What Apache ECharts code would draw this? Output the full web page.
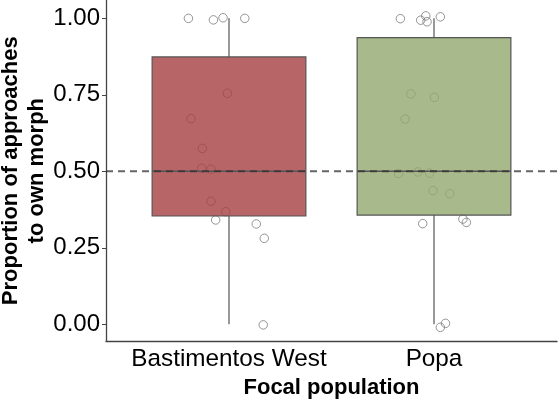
<!DOCTYPE html>
<html lang="en">
<head>
<meta charset="UTF-8">
<title>Focal population boxplot</title>
<script src="https://cdn.jsdelivr.net/npm/echarts@6/dist/echarts.min.js"></script>
<style>
    html, body { margin: 0; padding: 0; background: #fff; }
    #container { width: 558px; height: 400px; }
</style>
</head>
<body>
<div id="container"></div>
<script type="text/javascript">
    // categories and their x position
    var categories = ['Bastimentos West', 'Popa'];
    var catPos = [1, 2];
    var boxColors = ['rgba(165,62,65,0.8)', 'rgba(146,168,110,0.8)'];

    // [min, Q1, median, Q3, max]
    var boxStats = [
        [0, 0.354, 0.5, 0.874, 1],
        [0, 0.357, 0.5, 0.937, 1]
    ];

    // jittered points [x, y]
    var bastimentosPts = [
        [0.802, 1.000], [0.924, 0.995], [0.971, 1.002], [1.077, 1.000],
        [0.992, 0.755], [0.815, 0.672], [0.870, 0.575], [0.867, 0.510],
        [0.912, 0.507], [0.912, 0.402], [0.984, 0.368], [0.935, 0.341],
        [1.133, 0.328], [1.172, 0.281], [1.167, -0.002]
    ];
    var popaPts = [
        [1.836, 0.999], [1.935, 0.994], [1.960, 1.008], [1.966, 0.989],
        [2.031, 1.005], [1.887, 0.753], [2.002, 0.742], [1.859, 0.671],
        [1.827, 0.493], [1.921, 0.498], [1.979, 0.494], [1.995, 0.437],
        [2.077, 0.427], [1.945, 0.329], [2.141, 0.344], [2.158, 0.333],
        [2.031, -0.010], [2.056, 0.003]
    ];

    var yTicks = [0, 0.25, 0.5, 0.75, 1];
    var refValue = 0.5;
    var xRange = [0.4, 2.6];
    var yRange = [-0.056, 1.06];
    var boxWidth = 0.75;

    var font = 'Liberation Sans, Arial, Helvetica, sans-serif';

    var boxData = boxStats.map(function (s, i) {
        return [catPos[i]].concat(s).concat([i]);
    });

    var dom = document.getElementById('container');
    var myChart = echarts.init(dom, null, { renderer: 'canvas' });

    var option = {
        animation: false,
        grid: {
            left: 106,
            right: 1,
            top: 0,
            bottom: 58.6,
            containLabel: false,
            outerBoundsMode: 'none'
        },
        xAxis: {
            type: 'value',
            min: xRange[0],
            max: xRange[1],
            name: 'Focal population',
            nameLocation: 'middle',
            nameGap: 35.5,
            nameMoveOverlap: false,
            nameTextStyle: { fontFamily: font, fontSize: 22, fontWeight: 'bold', color: '#000' },
            axisLine: { show: true, onZero: false, lineStyle: { color: '#444', width: 1.3 } },
            axisTick: { show: false, customValues: catPos },
            axisLabel: {
                customValues: catPos,
                formatter: function (v) { return categories[Math.round(v) - 1]; },
                fontFamily: font,
                fontSize: 24.3,
                color: '#000',
                margin: 6
            },
            splitLine: { show: false }
        },
        yAxis: {
            type: 'value',
            min: yRange[0],
            max: yRange[1],
            name: 'Proportion of approaches\nto own morph',
            nameLocation: 'middle',
            nameRotate: 90,
            nameGap: 56,
            nameMoveOverlap: false,
            nameTextStyle: { fontFamily: font, fontSize: 22, fontWeight: 'bold', color: '#000', lineHeight: 26, align: 'center' },
            axisLine: { show: true, onZero: false, lineStyle: { color: '#444', width: 1.3 } },
            axisTick: { show: true, length: 4, customValues: yTicks, lineStyle: { color: '#444' } },
            axisLabel: {
                customValues: yTicks,
                formatter: function (v) { return v.toFixed(2); },
                fontFamily: font,
                fontSize: 24,
                color: '#000',
                margin: 6
            },
            splitLine: { show: false }
        },
        series: [
            {
                name: 'Bastimentos West points',
                type: 'scatter',
                z: 1,
                symbol: 'circle',
                symbolSize: 8.5,
                itemStyle: { color: 'rgba(255,255,255,0)', borderColor: '#7a7a7a', borderWidth: 1 },
                data: bastimentosPts
            },
            {
                name: 'Popa points',
                type: 'scatter',
                z: 1,
                symbol: 'circle',
                symbolSize: 8.5,
                itemStyle: { color: 'rgba(255,255,255,0)', borderColor: '#7a7a7a', borderWidth: 1 },
                data: popaPts
            },
            {
                name: 'boxes',
                type: 'custom',
                z: 2,
                renderItem: function (params, api) {
                    var x = api.value(0);
                    var pMin = api.coord([x, api.value(1)]);
                    var pQ1 = api.coord([x, api.value(2)]);
                    var pMed = api.coord([x, api.value(3)]);
                    var pQ3 = api.coord([x, api.value(4)]);
                    var pMax = api.coord([x, api.value(5)]);
                    var half = api.size([boxWidth, 0])[0] / 2;
                    var idx = api.value(6);
                    var line = { stroke: '#555', lineWidth: 1.2 };
                    return {
                        type: 'group',
                        children: [
                            { type: 'line', shape: { x1: pMax[0], y1: pMax[1], x2: pQ3[0], y2: pQ3[1] }, style: line },
                            { type: 'line', shape: { x1: pQ1[0], y1: pQ1[1], x2: pMin[0], y2: pMin[1] }, style: line },
                            {
                                type: 'rect',
                                shape: { x: pQ3[0] - half, y: pQ3[1], width: half * 2, height: pQ1[1] - pQ3[1] },
                                style: { fill: boxColors[idx], stroke: '#555', lineWidth: 1.2 }
                            },
                            { type: 'line', shape: { x1: pMed[0] - half, y1: pMed[1], x2: pMed[0] + half, y2: pMed[1] }, style: { stroke: '#555', lineWidth: 1.5 } }
                        ]
                    };
                },
                data: boxData
            },
            {
                name: 'reference',
                type: 'line',
                z: 3,
                symbol: 'none',
                silent: true,
                lineStyle: { color: 'rgba(50,50,50,0.75)', width: 2, type: [7, 5] },
                data: [[xRange[0], refValue], [xRange[1], refValue]]
            }
        ]
    };
    myChart.setOption(option);
    window.addEventListener('resize', myChart.resize);
</script>
</body>
</html>
